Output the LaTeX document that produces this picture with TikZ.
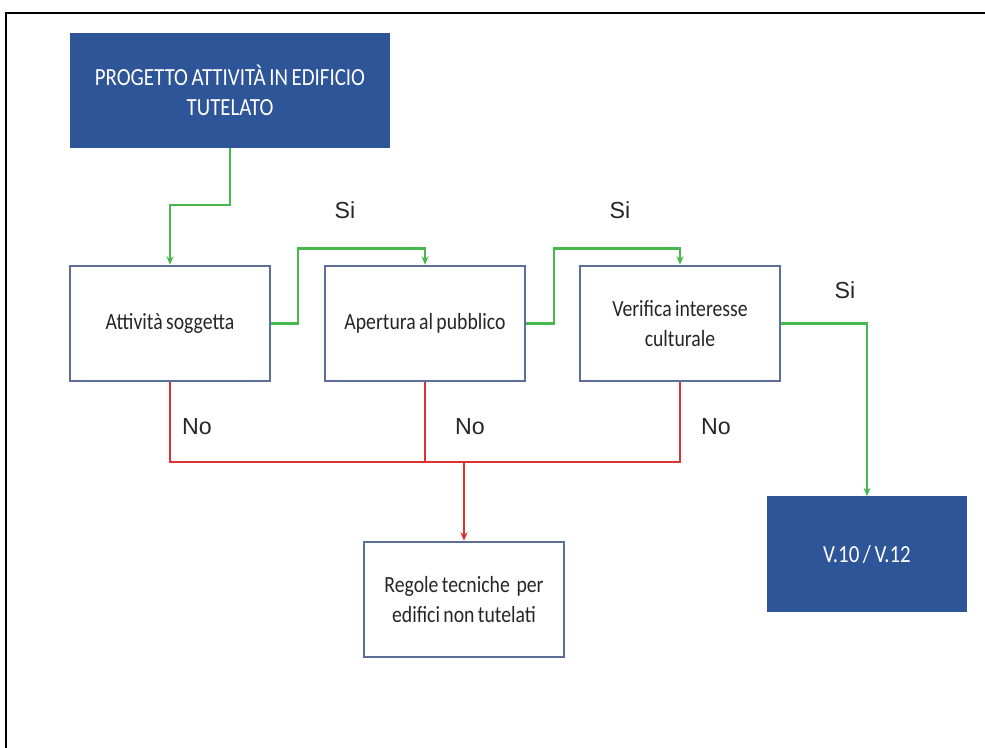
\documentclass[tikz,border=0pt]{standalone}
\usepackage{fontspec}
\usepackage{xcolor}
\setmainfont{Liberation Sans}
\newfontfamily\boxfont[FakeStretch=0.85,WordSpace=0.75]{Carlito}
\usetikzlibrary{arrows.meta}

\definecolor{boxblue}{HTML}{2E5597}
\definecolor{edgeblue}{HTML}{5D6E99}
\definecolor{yesgreen}{HTML}{46B94E}
\definecolor{nored}{HTML}{DC3232}

\tikzset{
    askbox/.style={draw=edgeblue, line width=1.8pt, fill=white, minimum width=5cm, minimum height=2.875cm,
        align=center, font=\boxfont\fontsize{16.5}{21}\selectfont, text=black!85},
    endbox/.style={draw=none, fill=boxblue, minimum height=2.875cm,
        align=center, font=\boxfont\fontsize{17.5}{21}\selectfont, text=white},
    yes/.style={draw=yesgreen, line width=1.7pt},
    no/.style={draw=nored, line width=1.7pt},
    tip/.style={-{Stealth[length=6pt,width=5pt]}},
    answer/.style={font=\fontsize{16.5}{19}\selectfont, text=black!85}
}

\begin{document}
\begin{tikzpicture}[x=0.025cm, y=-0.025cm]

    % Page size and outer frame (only top and left edges show)
    \useasboundingbox (0,0) rectangle (985,748);
    \draw[line width=1.2pt] (6,748) -- (6,13) -- (985,13);

    % Start box
    \node[endbox, minimum width=8cm] (start) at (230,90.5) {PROGETTO ATTIVITÀ IN EDIFICIO\\TUTELATO};

    % The three questions
    \node[askbox] (subject) at (170,323.5) {Attività soggetta};
    \node[askbox] (public) at (425,323.5) {Apertura al pubblico};
    \node[askbox] (culture) at (680,323.5) {Verifica interesse\\culturale};

    % Outcomes
    \node[askbox] (rules) at (464,599.5) {Regole tecniche~ per\\edifici non tutelati};
    \node[endbox, minimum width=5cm] (vrule) at (867,554) {V.10 / V.12};

    % Green (yes) paths
    \draw[yes, tip] (start.south) -- ++(0,57) -| (subject.north);
    \draw[yes, tip] (subject.east) -- ++(27,0) -- ++(0,-75) -| (public.north);
    \draw[yes, tip] (public.east) -- ++(28,0) -- ++(0,-75) -| (culture.north);
    \draw[yes, tip] (culture.east) -| (vrule.north);

    % Red (no) paths, joined on one line
    \draw[no] (subject.south) -- ++(0,80) coordinate (join) -- (join -| culture.south) -- (culture.south);
    \draw[no] (public.south) -- (public.south |- join);
    \draw[no, tip] (join -| rules.north) -- (rules.north);

    % Labels
    \node[answer] (si1) at (345,210) {Si};
    \node[answer] (si2) at (620,210) {Si};
    \node[answer] (si3) at (845,290) {Si};
    \node[answer] (no1) at (197,427) {No};
    \node[answer] (no2) at (470,427) {No};
    \node[answer] (no3) at (716,427) {No};

\end{tikzpicture}
\end{document}
